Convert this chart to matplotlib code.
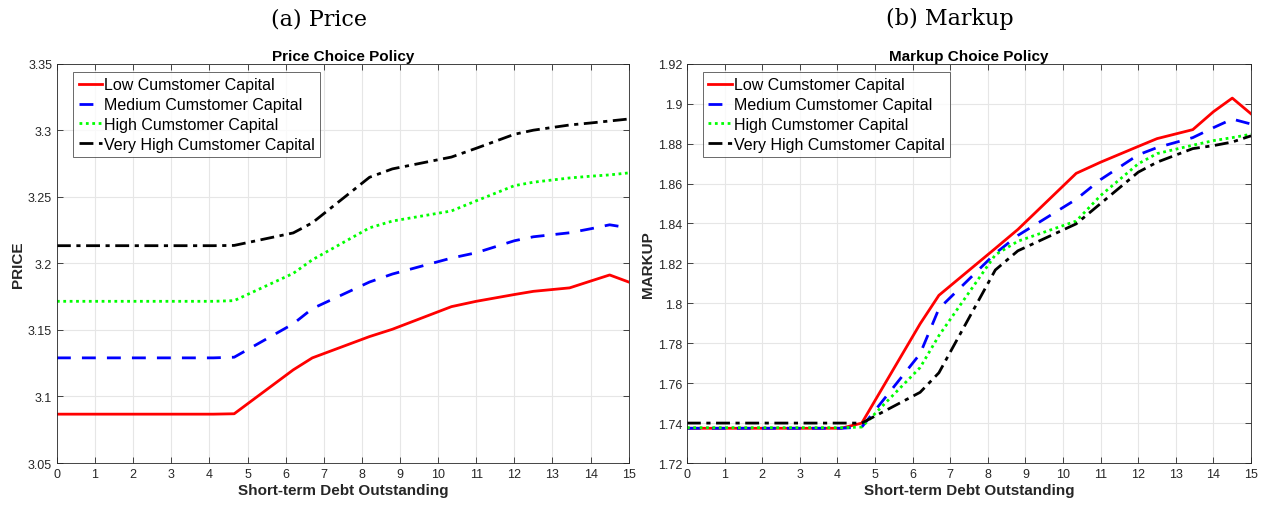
import numpy as np
import matplotlib.pyplot as plt

# short-term debt grid (nonuniform nodes of the policy solution)
debt = [0, 4.1, 4.65, 6.2, 6.7, 8.2, 8.8, 10.35, 11, 12, 12.5, 13.45, 14, 14.5, 15]

price_low = [3.0867, 3.0867, 3.087, 3.120, 3.129, 3.145, 3.1505, 3.1675, 3.1715, 3.1766, 3.179, 3.1816, 3.1867, 3.1913, 3.186]
price_med = [3.129, 3.129, 3.1295, 3.1546, 3.166, 3.186, 3.192, 3.204, 3.208, 3.217, 3.220, 3.223, 3.226, 3.229, 3.2267]
price_high = [3.1715, 3.1715, 3.172, 3.1925, 3.2027, 3.2267, 3.2318, 3.2394, 3.247, 3.2584, 3.261, 3.2642, 3.2655, 3.2665, 3.268]
price_vhigh = [3.2133, 3.2133, 3.2135, 3.2229, 3.2305, 3.2647, 3.271, 3.2799, 3.2865, 3.297, 3.3001, 3.304, 3.3055, 3.307, 3.3085]

markup_low = [1.7374, 1.7374, 1.740, 1.7897, 1.804, 1.8275, 1.837, 1.8651, 1.8707, 1.8786, 1.8825, 1.887, 1.896, 1.9028, 1.8949]
markup_med = [1.7374, 1.7374, 1.738, 1.7747, 1.7973, 1.825, 1.834, 1.8521, 1.862, 1.8744, 1.878, 1.883, 1.888, 1.8923, 1.8898]
markup_high = [1.7377, 1.7377, 1.738, 1.7678, 1.7838, 1.8243, 1.8311, 1.8412, 1.854, 1.8699, 1.875, 1.8792, 1.8815, 1.883, 1.8847]
markup_vhigh = [1.74, 1.74, 1.74, 1.7554, 1.7652, 1.8167, 1.8263, 1.8398, 1.850, 1.8657, 1.8707, 1.8775, 1.879, 1.8808, 1.8839]

labels = ['Low Cumstomer Capital', 'Medium Cumstomer Capital',
          'High Cumstomer Capital', 'Very High Cumstomer Capital']
colors = ['#ff0000', '#0000ff', '#00ff00', '#000000']
styles = ['-', (0, (5, 4)), (0, (1, 1.3)), (0, (5, 2, 1.5, 2))]

plt.rcParams['font.family'] = ['Liberation Sans', 'DejaVu Sans']

fig = plt.figure(figsize=(12.65, 5.06), dpi=100)
ax1 = fig.add_axes([0.045, 0.083, 0.452, 0.789])
ax2 = fig.add_axes([0.543, 0.083, 0.446, 0.789])


def style_axis(ax, title, ylabel, ylim, yticks, yticklabels):
    ax.set_xlim(0, 15)
    ax.set_ylim(*ylim)
    ax.set_xticks(range(16))
    ax.set_yticks(yticks)
    ax.set_yticklabels(yticklabels)
    ax.tick_params(direction='in', top=True, right=True, labelsize=9,
                   colors='#262626', length=4, width=0.6)
    for s in ax.spines.values():
        s.set_color('#262626')
        s.set_linewidth(0.6)
    ax.grid(True, color='#e6e6e6', linewidth=0.8)
    ax.set_axisbelow(True)
    ax.set_title(title, fontsize=11, fontweight='bold', pad=3)
    ax.set_xlabel('Short-term Debt Outstanding', fontsize=11,
                  fontweight='bold', color='#262626', labelpad=2)
    ax.set_ylabel(ylabel, fontsize=11, fontweight='bold', color='#262626',
                  labelpad=2)
    leg = ax.legend(loc='upper left', bbox_to_anchor=(0.028, 0.98),
                    borderaxespad=0, fontsize=11.5, frameon=True, fancybox=False,
                    handlelength=1.5, handletextpad=0.1, borderpad=0.35,
                    labelspacing=0.3)
    leg.get_frame().set_edgecolor('#262626')
    leg.get_frame().set_linewidth(0.6)


price_series = [price_low, price_med, price_high, price_vhigh]
markup_series = [markup_low, markup_med, markup_high, markup_vhigh]
for ys, lab, c, ls in zip(price_series, labels, colors, styles):
    ax1.plot(debt, ys, color=c, linestyle=ls, linewidth=2, label=lab)
for ys, lab, c, ls in zip(markup_series, labels, colors, styles):
    ax2.plot(debt, ys, color=c, linestyle=ls, linewidth=2, label=lab)

pt = np.round(np.arange(3.05, 3.351, 0.05), 2)
style_axis(ax1, 'Price Choice Policy', 'PRICE', (3.05, 3.35), pt,
           ['%g' % v for v in pt])
mt = np.round(np.arange(1.72, 1.921, 0.02), 2)
style_axis(ax2, 'Markup Choice Policy', 'MARKUP', (1.72, 1.92), mt,
           ['%g' % v for v in mt])

fig.text(0.252, 0.962, '(a) Price', ha='center', va='center', fontsize=16,
         family='DejaVu Serif')
fig.text(0.751, 0.962, '(b) Markup', ha='center', va='center', fontsize=16,
         family='DejaVu Serif')

fig.savefig('out.png', dpi=100)
